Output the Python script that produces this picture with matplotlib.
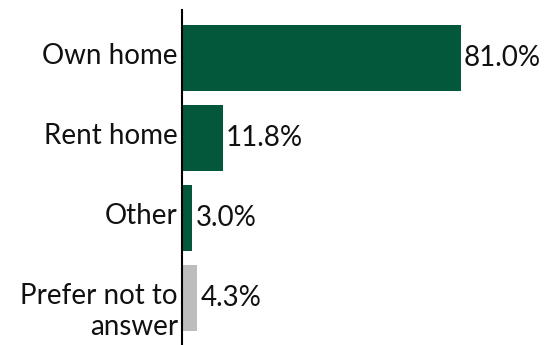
import matplotlib
matplotlib.use("Agg")
import matplotlib.pyplot as plt

categories = ["Own home", "Rent home", "Other", "Prefer not to\nanswer"]
values = [81.0, 11.8, 3.0, 4.3]
labels = ["81.0%", "11.8%", "3.0%", "4.3%"]
colors = ["#03573A", "#03573A", "#03573A", "#BDBDBD"]

plt.rcParams["font.family"] = ["Lato", "DejaVu Sans"]

fig = plt.figure(figsize=(5.45, 3.45), dpi=100)
ax = fig.add_axes([182 / 545, 0, 344 / 545, 335.5 / 345])

y = list(range(len(categories)))
bars = ax.barh(y, values, height=0.825, color=colors)

# value labels just past the end of each bar
for b, lab in zip(bars, labels):
    ax.annotate(lab, (b.get_width(), b.get_y() + b.get_height() / 2),
                xytext=(2.5, -5.8), textcoords="offset points",
                va="baseline", ha="left", fontsize=20, color="#111111")

# category names left of the axis line; baseline goes to the last line,
# so shift wrapped names down so the first line sits like the others
line_pitch = 22.8
for yi, cat in zip(y, categories):
    extra = cat.count("\n") * line_pitch
    ax.annotate(cat, (0, yi), xycoords=("axes fraction", "data"),
                xytext=(-3, -4.2 - extra), textcoords="offset points",
                va="baseline", ha="right", fontsize=20, color="#111111",
                linespacing=1.27)

ax.set_xlim(0, 100)
ax.set_ylim(3.5875, -0.606)
ax.set_xticks([])
ax.set_yticks([])
for s in ["top", "right", "bottom"]:
    ax.spines[s].set_visible(False)
ax.spines["left"].set_linewidth(1.5)
ax.spines["left"].set_color("black")

fig.savefig("out.png", dpi=100)
